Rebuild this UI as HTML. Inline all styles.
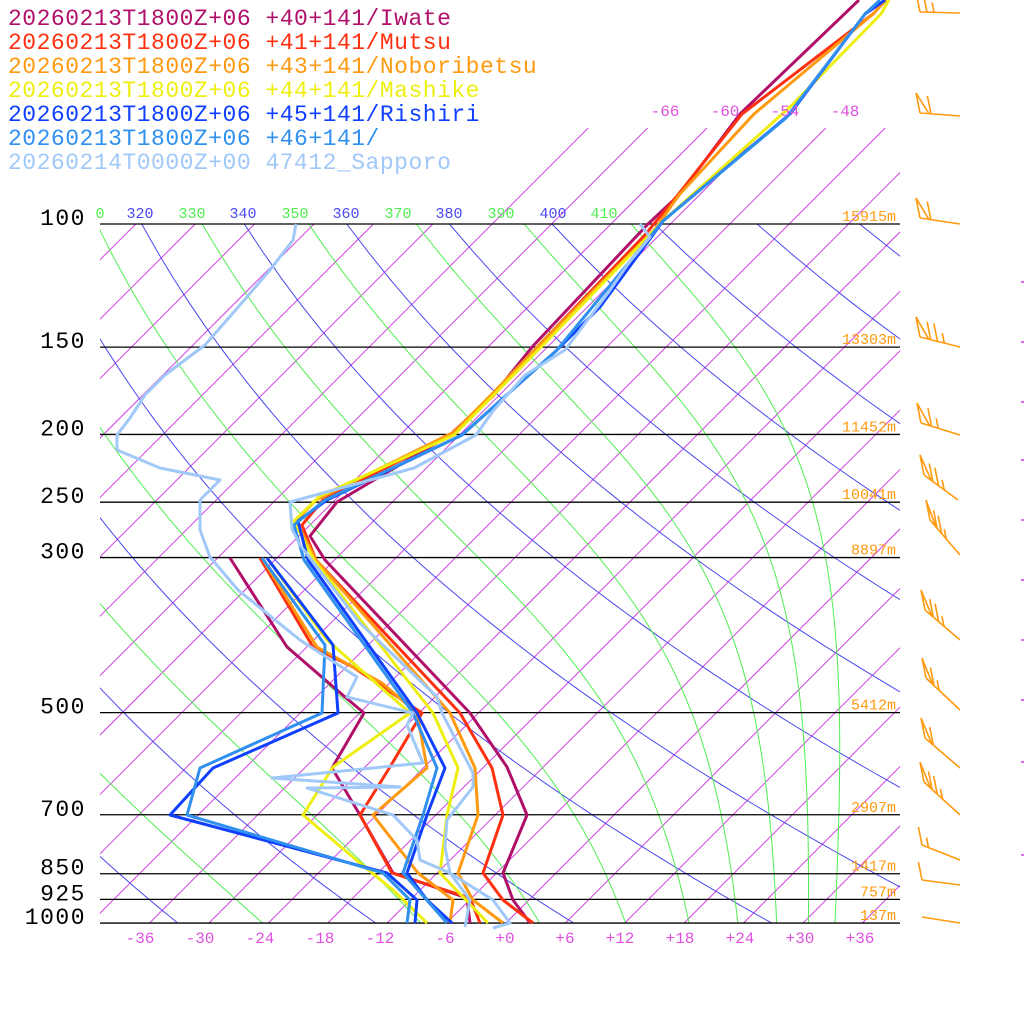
<!DOCTYPE html>
<html><head><meta charset="utf-8"><style>
html,body{margin:0;padding:0;background:#fff;}
svg{display:block;}
.mono{font-family:"Liberation Mono",monospace;}
</style></head><body>
<svg id="s" width="1024" height="1024" viewBox="0 0 1024 1024" xmlns="http://www.w3.org/2000/svg">
<defs>
<clipPath id="cp"><rect x="100" y="224" width="800" height="699"/></clipPath>
<clipPath id="ci"><rect x="100" y="128" width="800" height="795"/></clipPath>
</defs>
<g id="iso" clip-path="url(#ci)"></g>
<g id="adi" clip-path="url(#cp)"></g>
<g id="hl" stroke="#000" stroke-width="1.3"></g>
<g id="tr" fill="none" stroke-width="3" stroke-linejoin="round"></g>
<g id="wb" fill="none" stroke="#ff9a10" stroke-width="1.6"></g>
<g id="tx" class="mono"></g>
<g class="mono" font-size="23" style="letter-spacing:0.5px">
<text x="8" y="25" fill="#b0106a">20260213T1800Z+06 +40+141/Iwate</text>
<text x="8" y="49" fill="#ff3010">20260213T1800Z+06 +41+141/Mutsu</text>
<text x="8" y="73" fill="#ff9a10">20260213T1800Z+06 +43+141/Noboribetsu</text>
<text x="8" y="97" fill="#eeee10">20260213T1800Z+06 +44+141/Mashike</text>
<text x="8" y="121" fill="#1040ff">20260213T1800Z+06 +45+141/Rishiri</text>
<text x="8" y="145" fill="#3090f0">20260213T1800Z+06 +46+141/</text>
<text x="8" y="169" fill="#a0c8f8">20260214T0000Z+00 47412_Sapporo</text>
</g>
</svg>
<script>
(function(){
var NS="http://www.w3.org/2000/svg";
function el(p,n,a,t){var e=document.createElementNS(NS,n);for(var k in a)e.setAttribute(k,a[k]);if(t!==undefined)e.textContent=t;document.getElementById(p).appendChild(e);return e;}
function Y(p){return 224+303.6*Math.log(p/100);}
function X(T,y){return 506+9.9*T+(923-y);}
for(var T=-120;T<=42;T+=6){
  var ytop=T>=-72?128:224;
  el("iso","line",{x1:X(T,923),y1:923,x2:X(T,ytop),y2:ytop,stroke:"#d040e0","stroke-width":1});
}
for(var th=220;th<=500;th+=20){
  var pts=[];
  for(var p=90;p<=1010;p+=10){var t=th*Math.pow(p/1000,0.2857)-273.15;var y=Y(p);pts.push(X(t,y).toFixed(1)+","+y.toFixed(1));}
  el("adi","polyline",{points:pts.join(" "),fill:"none",stroke:"#4848f0","stroke-width":1});
}
function es(Tc){return 6.112*Math.exp(17.67*Tc/(Tc+243.5));}
function rs(Tc,p){var e=es(Tc);return 0.622*e/(p-e);}
function the(Tc,p){var Tk=Tc+273.15,r=rs(Tc,p)*1000;return Tk*Math.pow(1000/p,0.2854*(1-0.00028*r))*Math.exp((3.376/Tk-0.00254)*r*(1+0.00081*r));}
for(var te=250;te<=410;te+=20){
  var lo=-60,hi=45;
  for(var i=0;i<60;i++){var m=(lo+hi)/2;if(the(m,1000)<te)lo=m;else hi=m;}
  var Tc=(lo+hi)/2,p=1000,pts=[];
  while(p>=90){
    var y=Y(p);pts.push(X(Tc,y).toFixed(1)+","+y.toFixed(1));
    var Tk=Tc+273.15,r=rs(Tc,p),L=2.5e6,Rd=287,cp=1004;
    var dTdp=(Rd*Tk+L*r)/(p*(cp+L*L*r*0.622/(Rd*Tk*Tk)));
    Tc-=dTdp*5;p-=5;
  }
  el("adi","polyline",{points:pts.join(" "),fill:"none",stroke:"#50ee50","stroke-width":1});
}
var P=[[100,"100"],[150,"150"],[200,"200"],[250,"250"],[300,"300"],[500,"500"],[700,"700"],[850,"850"],[925,"925"],[1000,"1000"]];
P.forEach(function(a){var y=Y(a[0]);el("hl","line",{x1:100,y1:y,x2:900,y2:y});
  el("tx","text",{x:86,y:y+1,"text-anchor":"end","font-size":23,fill:"#000",style:"letter-spacing:1.5px"},a[1]);});
var H=[["15915m",100],["13303m",150],["11452m",200],["10041m",250],["8897m",300],["5412m",500],["2907m",700],["1417m",850],["757m",925],["137m",1000]];
H.forEach(function(a){el("tx","text",{x:896,y:Y(a[1])-3,"text-anchor":"end","font-size":15,fill:"#ff9a10"},a[0]);});
var bl=[[-36,140],[-30,200],[-24,260],[-18,320],[-12,380],[-6,445],[0,505],[6,565],[12,620],[18,680],[24,740],[30,800],[36,860]];
bl.forEach(function(a){var s=a[0]>0?"+"+a[0]:(a[0]==0?"+0":""+a[0]);el("tx","text",{x:a[1],y:943,"text-anchor":"middle","font-size":16,fill:"#e050e0"},s);});
[["-66",665],["-60",725],["-54",785],["-48",845]].forEach(function(a){el("tx","text",{x:a[1],y:116,"text-anchor":"middle","font-size":16,fill:"#e050e0"},a[0]);});
var tl=[["0",100,"#50ee50"],["320",140,"#4848f0"],["330",192,"#50ee50"],["340",243,"#4848f0"],["350",295,"#50ee50"],["360",346,"#4848f0"],["370",398,"#50ee50"],["380",449,"#4848f0"],["390",501,"#50ee50"],["400",553,"#4848f0"],["410",604,"#50ee50"]];
tl.forEach(function(a){el("tx","text",{x:a[1],y:218,"text-anchor":"middle","font-size":15,fill:a[2]},a[0]);});
var S=[
["#b0106a",[[859,0],[740,114],[679,195],[648,224],[533,346],[495,393],[450,435],[337,502],[310,536],[325,560],[470,713],[507,767],[527,815],[503,873],[513,900],[530,923]],
 [[230,558],[287,647],[345,697],[364,713],[332,768],[360,815],[393,873],[467,898],[470,923]]],
["#ff3010",[[886,0],[873,14],[742,114],[677,196],[644,236],[541,343],[493,396],[450,435],[323,500],[302,525],[316,560],[460,713],[492,768],[503,815],[483,873],[503,900],[533,923]],
 [[260,558],[313,647],[353,667],[422,713],[390,767],[360,815],[392,873],[470,898],[480,923]]],
["#ff9a10",[[886,0],[873,14],[754,114],[679,195],[655,229],[545,339],[493,393],[454,432],[316,500],[296,521],[316,560],[450,713],[475,768],[478,815],[458,873],[473,900],[503,923]],
 [[262,558],[317,647],[382,683],[417,713],[427,768],[373,815],[418,873],[453,900],[450,923]]],
["#eeee10",[[889,0],[881,14],[790,107],[663,221],[549,339],[454,435],[320,496],[294,521],[314,560],[433,713],[458,768],[447,815],[440,873],[488,923]],
 [[267,558],[327,640],[410,713],[333,767],[303,815],[360,863],[393,890],[427,923]]],
["#1040ff",[[885,0],[865,14],[790,114],[663,221],[600,307],[557,350],[462,435],[327,500],[298,521],[308,560],[417,713],[445,768],[427,815],[407,873],[427,900],[452,923]],
 [[267,558],[333,645],[338,713],[213,768],[170,815],[387,873],[417,900],[415,923]]],
["#3090f0",[[880,0],[865,14],[786,118],[663,221],[557,350],[462,435],[325,500],[294,525],[304,560],[413,713],[437,768],[423,815],[403,873],[447,923]],
 [[262,558],[325,645],[322,713],[200,768],[187,815],[383,873],[410,900],[407,923]]],
["#a0c8f8",[[640,224],[650,237],[628,264],[608,293],[565,350],[525,375],[493,411],[476,435],[414,468],[290,502],[292,529],[300,545],[360,623],[437,697],[442,713],[473,773],[473,787],[447,820],[445,847],[450,873],[470,900],[465,927]],
 [[296,224],[293,240],[270,270],[240,305],[205,345],[165,375],[145,395],[130,418],[117,435],[117,450],[160,468],[220,480],[200,500],[200,530],[210,557],[238,590],[300,640],[357,677],[347,697],[413,713],[407,725],[423,763],[272,778],[400,787],[307,788],[393,815],[417,840],[420,860],[450,873],[493,900],[510,923],[493,928]]]
];
S.forEach(function(s){
  el("tr","polyline",{points:s[1].join(" "),stroke:s[0]});
  el("tr","polyline",{points:s[2].join(" "),stroke:s[0]});
});
var W=[[920,12,960,13,"b3"],[920,113,960,116,"f1"],[920,218,960,224,"f1"],[920,337,960,347,"f3"],[921,423,960,435,"f2"],[924,475,958,500,"f3"],[930,520,960,555,"f3"],[925,610,960,640,"f3"],[926,678,960,710,"f2"],[925,738,960,768,"f1"],[924,782,960,815,"f3"],[922,845,960,860,"b2"],[922,880,960,885,"b1"],[922,917,960,923,"b0"]];
W.forEach(function(w){
  el("wb","line",{x1:w[0],y1:w[1],x2:w[2],y2:w[3]});
  var dx=(w[2]-w[0]),dy=(w[3]-w[1]),L=Math.sqrt(dx*dx+dy*dy),ux=dx/L,uy=dy/L;
  var n=parseInt(w[4][1]),off=0;
  if(w[4][0]=="f"){el("wb","polyline",{points:[w[0],w[1],w[0]-4,w[1]-20,w[0]+ux*9,w[1]+uy*9].join(" ")});off=11;}
  for(var i=0;i<n;i++){var bx=w[0]+ux*(off+i*7),by=w[1]+uy*(off+i*7);var len=(i==n-1&&n>1)?10:18;
    el("wb","line",{x1:bx,y1:by,x2:bx-len*0.2,y2:by-len});}
});
[282,342,402,460,520,580,640,700,762,855].forEach(function(y){el("tx","line",{x1:1021,y1:y,x2:1024,y2:y,stroke:"#d040e0","stroke-width":1.5});});
})();
</script>
</body></html>
